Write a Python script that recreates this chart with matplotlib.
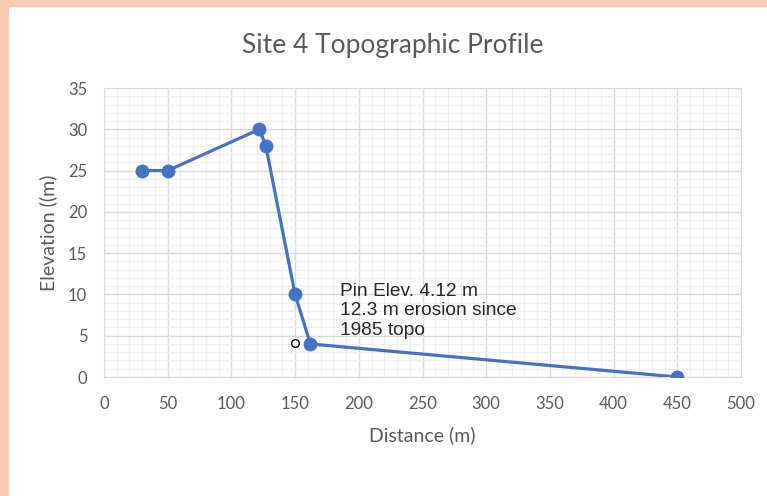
import matplotlib.pyplot as plt
from matplotlib.patches import Rectangle
from matplotlib.ticker import MultipleLocator

# survey points along the profile
distance = [30, 50, 122, 127, 150, 162, 450]
elevation = [25, 25, 30, 28, 10, 4, 0]

# erosion pin
pin_distance = [150]
pin_elevation = [4.12]
pin_note = "Pin Elev. 4.12 m\n12.3 m erosion since\n1985 topo"

text_grey = "#595959"
blue = "#4472C4"

fig = plt.figure(figsize=(7.67, 4.96), dpi=100)

# peach frame along the left and top edges
fig.patches.append(Rectangle((0, 0), 8 / 767, 1, transform=fig.transFigure,
                             color="#F8CBAD", zorder=0))
fig.patches.append(Rectangle((0, 1 - 6 / 496), 1, 6 / 496, transform=fig.transFigure,
                             color="#F8CBAD", zorder=0))

ax = fig.add_axes([104 / 767, 1 - 377 / 496, (741 - 104) / 767, (377 - 88) / 496])

ax.plot(distance, elevation, color=blue, linewidth=2.3, marker="o",
        markersize=9, zorder=3)
ax.plot(pin_distance, pin_elevation, linestyle="none", marker="o", markersize=5.5,
        markerfacecolor="white", markeredgecolor="black", markeredgewidth=1, zorder=4)
ax.text(185, 11.4, pin_note, fontsize=13.8, family="Liberation Sans",
        color="#262626", va="top", ha="left", linespacing=1.2)

ax.set_xlim(0, 500)
ax.set_ylim(0, 35)
ax.xaxis.set_major_locator(MultipleLocator(50))
ax.xaxis.set_minor_locator(MultipleLocator(10))
ax.yaxis.set_major_locator(MultipleLocator(5))
ax.yaxis.set_minor_locator(MultipleLocator(1))
ax.grid(which="major", color="#D9D9D9", linewidth=1)
ax.grid(which="minor", color="#F0F0F0", linewidth=0.9)
ax.set_axisbelow(True)
ax.tick_params(which="both", length=0, labelsize=12, labelcolor=text_grey)
ax.tick_params(axis="x", pad=14)
ax.tick_params(axis="y", pad=12)
for lbl in ax.get_xticklabels() + ax.get_yticklabels():
    lbl.set_family("Lato")
for s in ax.spines.values():
    s.set_color("#D9D9D9")

# title sits centred on the whole chart, not on the plot area
ax.set_title("Site 4 Topographic Profile", fontsize=19, color=text_grey,
             family="Lato", pad=25, x=0.454)
ax.set_xlabel("Distance (m)", fontsize=14, color=text_grey, family="Lato", labelpad=10)
ax.set_ylabel("Elevation ((m)", fontsize=14, color=text_grey, family="Lato", labelpad=8)

fig.savefig("out.png", dpi=100)
